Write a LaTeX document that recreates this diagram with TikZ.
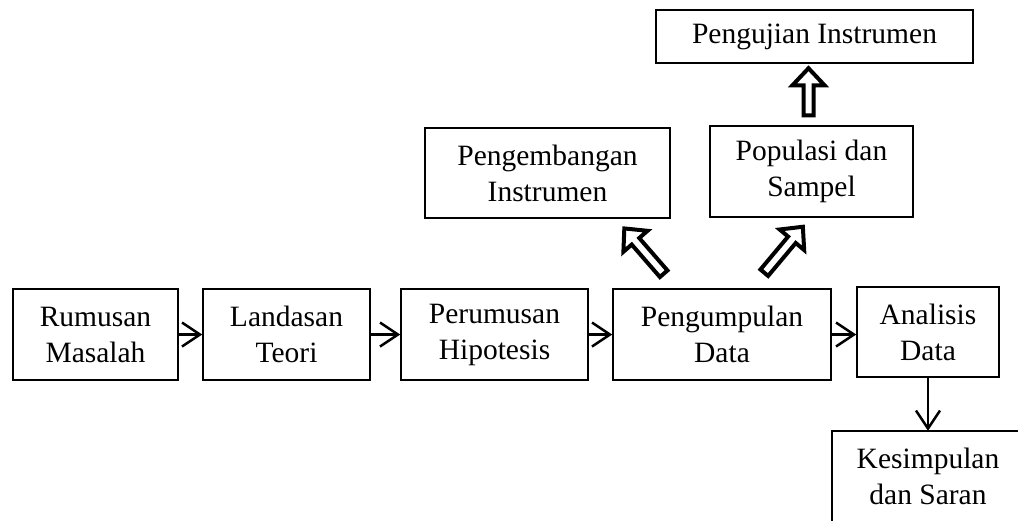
\documentclass[tikz,border=0pt]{standalone}
\usepackage{fontspec}
\setmainfont{Liberation Serif}
\usetikzlibrary{arrows.meta,calc}
\tikzset{
  boxtext/.style={align=center, inner sep=0pt,
    font=\fontsize{29.5}{36}\selectfont},
  box/.style={boxtext, draw, line width=1.5pt},
  boxline/.style={line width=1.5pt},
  thinarrow/.style={line width=2.2pt, -{Straight Barb[length=18pt,width=24pt,line width=2.5pt]}},
  hollow/.style={draw, line width=4pt, line join=miter, fill=white},
  blockarrow/.pic={
    \path[hollow] (2,-5) -- (#1-20,-5) -- (#1-20,-16) -- (#1-3,0)
      -- (#1-20,16) -- (#1-20,5) -- (2,5) -- cycle;
  }
}
\begin{document}
\begin{tikzpicture}[x=1pt,y=-1pt]
\useasboundingbox (0,0) rectangle (1018,520);
\node[box, minimum width=165pt, minimum height=91pt] (rm) at (95.5,334.5) {Rumusan\\Masalah};
\node[box, minimum width=167pt, minimum height=91pt] (lt) at (286.5,334.5) {Landasan\\Teori};
\node[box, minimum width=187pt, minimum height=91pt] (ph) at (494.5,334.5) {Perumusan\\Hipotesis};
\node[box, minimum width=218pt, minimum height=91pt] (pd) at (722,334.5) {Pengumpulan\\Data};
\node[box, minimum width=142pt, minimum height=90pt] (ad) at (928,332) {Analisis\\Data};
\node[boxtext, minimum width=192pt, minimum height=90pt] (ks) at (928,476) {Kesimpulan\\dan Saran};
\draw[boxline] ($(ks.south west)+(0,40)$) -- (ks.north west) -- ($(ks.north east)+(40,0)$);
\node[box, minimum width=245pt, minimum height=90pt] (pi) at (547.5,173) {Pengembangan\\Instrumen};
\node[box, minimum width=203pt, minimum height=91pt] (ps) at (811.5,171.5) {Populasi dan\\Sampel};
\node[box, minimum width=317pt, minimum height=53pt] (uj) at (814.5,36.5) {Pengujian Instrumen};

\draw[thinarrow] (rm.east) -- (lt.west);
\draw[thinarrow] (lt.east) -- (ph.west);
\draw[thinarrow] (ph.east) -- (pd.west);
\draw[thinarrow] (pd.east) -- (pd.east -| ad.west);
\draw[thinarrow] (ad.south) -- (ks.north);

\coordinate (t1) at ($(pd.north)+(-57,-13)$);
\coordinate (t2) at ($(pd.north)+(41,-14)$);
\coordinate (t3) at ($(ps.north)+(-3,-8)$);
\pic[rotate=131] at (t1) {blockarrow=65};
\pic[rotate=50] at (t2) {blockarrow=65};
\pic[rotate=90] at (t3) {blockarrow=52};
\end{tikzpicture}
\end{document}
